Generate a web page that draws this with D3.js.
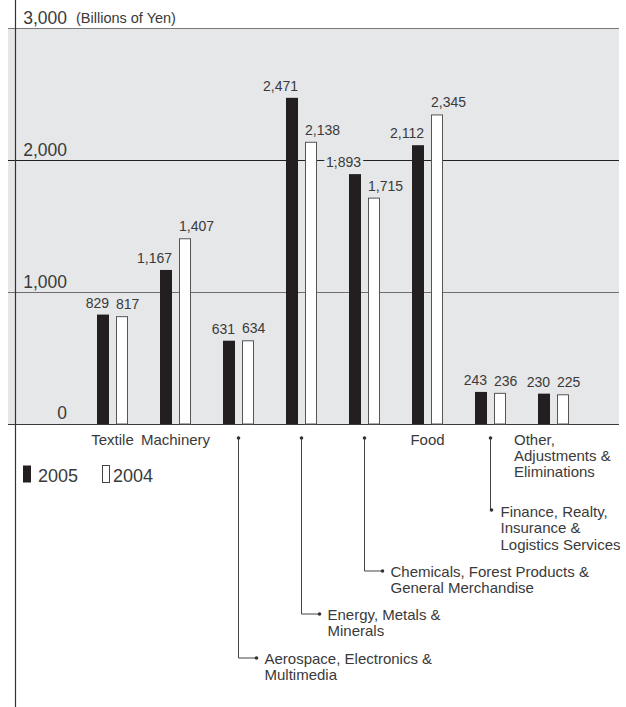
<!DOCTYPE html>
<html>
<head>
<meta charset="utf-8">
<script src="https://cdn.jsdelivr.net/npm/d3@7"></script>
<style>
  html, body { margin: 0; padding: 0; background: #fff; }
  svg { display: block; }
  text { font-family: "Liberation Sans", Arial, sans-serif; fill: #3a3a3a; }
</style>
</head>
<body>
<svg id="chart" width="626" height="707"></svg>
<script>
// Net sales by segment, billions of yen
const categories = [
  "Textile",
  "Machinery",
  "Aerospace, Electronics & Multimedia",
  "Energy, Metals & Minerals",
  "Chemicals, Forest Products & General Merchandise",
  "Food",
  "Finance, Realty, Insurance & Logistics Services",
  "Other, Adjustments & Eliminations"
];
const categoryLines = [
  ["Textile"],
  ["Machinery"],
  ["Aerospace, Electronics &", "Multimedia"],
  ["Energy, Metals &", "Minerals"],
  ["Chemicals, Forest Products &", "General Merchandise"],
  ["Food"],
  ["Finance, Realty,", "Insurance &", "Logistics Services"],
  ["Other,", "Adjustments &", "Eliminations"]
];
const years = ["2005", "2004"];
const values2005 = [829, 1167, 631, 2471, 1893, 2112, 243, 230];
const values2004 = [817, 1407, 634, 2138, 1715, 2345, 236, 225];
const yTicks = [0, 1000, 2000, 3000];
const unitLabel = "(Billions of Yen)";

const svg = d3.select("#chart");
const bg = "#e6e7e9";
const fmt = d3.format(",");

// scales
const y = d3.scaleLinear().domain([0, 3000]).range([424, 28]);
const x0 = d3.scaleBand().domain(categories).range([81, 585])
  .paddingInner(32 / 63).paddingOuter(16 / 63);
const x1 = d3.scaleBand().domain(years).range([0, x0.bandwidth()])
  .paddingInner(7 / 19);

const plotLeft = 8, plotRight = 619;

// shaded plot area
svg.append("rect")
  .attr("x", plotLeft).attr("y", y(3000))
  .attr("width", plotRight - plotLeft).attr("height", y(0) - y(3000))
  .attr("fill", bg);

// gridlines
const gridColor = { 0: "#3a3a3a", 1000: "#6e6e6e", 2000: "#222", 3000: "#7a7a7a" };
svg.append("g").selectAll("line").data(yTicks).join("line")
  .attr("x1", plotLeft).attr("x2", plotRight)
  .attr("y1", d => y(d) + 0.5).attr("y2", d => y(d) + 0.5)
  .attr("stroke", d => gridColor[d]).attr("stroke-width", 1);

// vertical axis line
svg.append("line")
  .attr("x1", 15.5).attr("x2", 15.5).attr("y1", 0).attr("y2", 707)
  .attr("stroke", "#333").attr("stroke-width", 1.2);

// tick labels
svg.append("g").selectAll("text").data(yTicks).join("text")
  .attr("x", 67).attr("y", d => y(d) - (d === 0 ? 5 : 4))
  .attr("text-anchor", "end")
  .style("font-size", "17.5px")
  .text(d => fmt(d));
svg.append("text")
  .attr("x", 76).attr("y", y(3000) - 5)
  .style("font-size", "14.5px")
  .text(unitLabel);

// bars
const rows = categories.map((c, i) => ({ cat: c, vals: [values2005[i], values2004[i]] }));
const groups = svg.append("g").selectAll("g").data(rows).join("g")
  .attr("transform", d => `translate(${x0(d.cat)},0)`);

groups.selectAll("rect").data(d => d.vals.map((v, j) => ({ year: years[j], v })))
  .join("rect")
  .attr("x", d => x1(d.year) + (d.year === "2004" ? 0.5 : 0))
  .attr("y", d => y(d.v) + (d.year === "2004" ? 0.5 : 0))
  .attr("width", d => x1.bandwidth() - (d.year === "2004" ? 1 : 0))
  .attr("height", d => y(0) - y(d.v) - (d.year === "2004" ? 0.5 : 0))
  .attr("fill", d => d.year === "2005" ? "#231f20" : "#fff")
  .attr("stroke", d => d.year === "2005" ? "none" : "#555")
  .attr("stroke-width", 1);

// value labels: 2005 ends at the bar's right edge, 2004 starts at its left edge
groups.selectAll("text.val").data(d => d.vals.map((v, j) => ({ year: years[j], v })))
  .join("text")
  .attr("class", "val")
  .attr("x", d => d.year === "2005" ? x1(d.year) + x1.bandwidth() : x1(d.year))
  .attr("y", d => y(d.v) - 7)
  .attr("text-anchor", d => d.year === "2005" ? "end" : "start")
  .style("font-size", "14px")
  .style("paint-order", "stroke")
  .style("stroke", bg).style("stroke-width", "6px")
  .text(d => fmt(d.v));

// category labels under the axis
const baseY = 445;
const center = c => x0(c) + x0.bandwidth() / 2;
[0, 1, 5].forEach(i => {
  svg.append("text")
    .attr("x", center(categories[i])).attr("y", baseY)
    .attr("text-anchor", "middle")
    .style("font-size", "15px")
    .text(categoryLines[i][0]);
});
// "Other" block, left aligned
const other = svg.append("text")
  .attr("x", x0(categories[7]) - 24).attr("y", baseY)
  .style("font-size", "15px");
categoryLines[7].forEach((t, k) => {
  other.append("tspan").attr("x", x0(categories[7]) - 24)
    .attr("y", baseY + k * 16).text(t);
});

// leader callouts
const leaderTop = 438;
const dot = (cx, cy) => svg.append("circle").attr("cx", cx).attr("cy", cy)
  .attr("r", 1.8).attr("fill", "#333");
const elbows = [
  { i: 2, yy: 658 },
  { i: 3, yy: 614 },
  { i: 4, yy: 571 }
];
elbows.forEach(e => {
  const cx = center(categories[e.i]);
  svg.append("path")
    .attr("d", `M${cx},${leaderTop}V${e.yy}H${cx + 18}`)
    .attr("fill", "none").attr("stroke", "#444").attr("stroke-width", 1);
  dot(cx, leaderTop);
  dot(cx + 18, e.yy);
  const t = svg.append("text").style("font-size", "15px");
  categoryLines[e.i].forEach((s, k) => {
    t.append("tspan").attr("x", cx + 26).attr("y", e.yy + 6 + k * 16).text(s);
  });
});
// Finance: straight drop with label to the right
{
  const cx = center(categories[6]);
  const yy = 510;
  svg.append("line")
    .attr("x1", cx).attr("x2", cx).attr("y1", leaderTop).attr("y2", yy)
    .attr("stroke", "#444").attr("stroke-width", 1);
  dot(cx, leaderTop);
  dot(cx + 1, yy);
  const t = svg.append("text").style("font-size", "15px");
  categoryLines[6].forEach((s, k) => {
    t.append("tspan").attr("x", cx + 10).attr("y", yy + 6.5 + k * 16.5).text(s);
  });
}

// legend
const legend = svg.append("g");
years.forEach((yr, j) => {
  const lx = j === 0 ? 23 : 102;
  legend.append("rect")
    .attr("x", lx + (j ? 0.5 : 0)).attr("y", 465.5)
    .attr("width", j ? 7 : 8).attr("height", 17)
    .attr("fill", j ? "#fff" : "#231f20")
    .attr("stroke", j ? "#444" : "none");
  legend.append("text")
    .attr("x", lx + (j ? 11 : 15)).attr("y", 482)
    .style("font-size", "18px")
    .text(yr);
});
</script>
</body>
</html>
